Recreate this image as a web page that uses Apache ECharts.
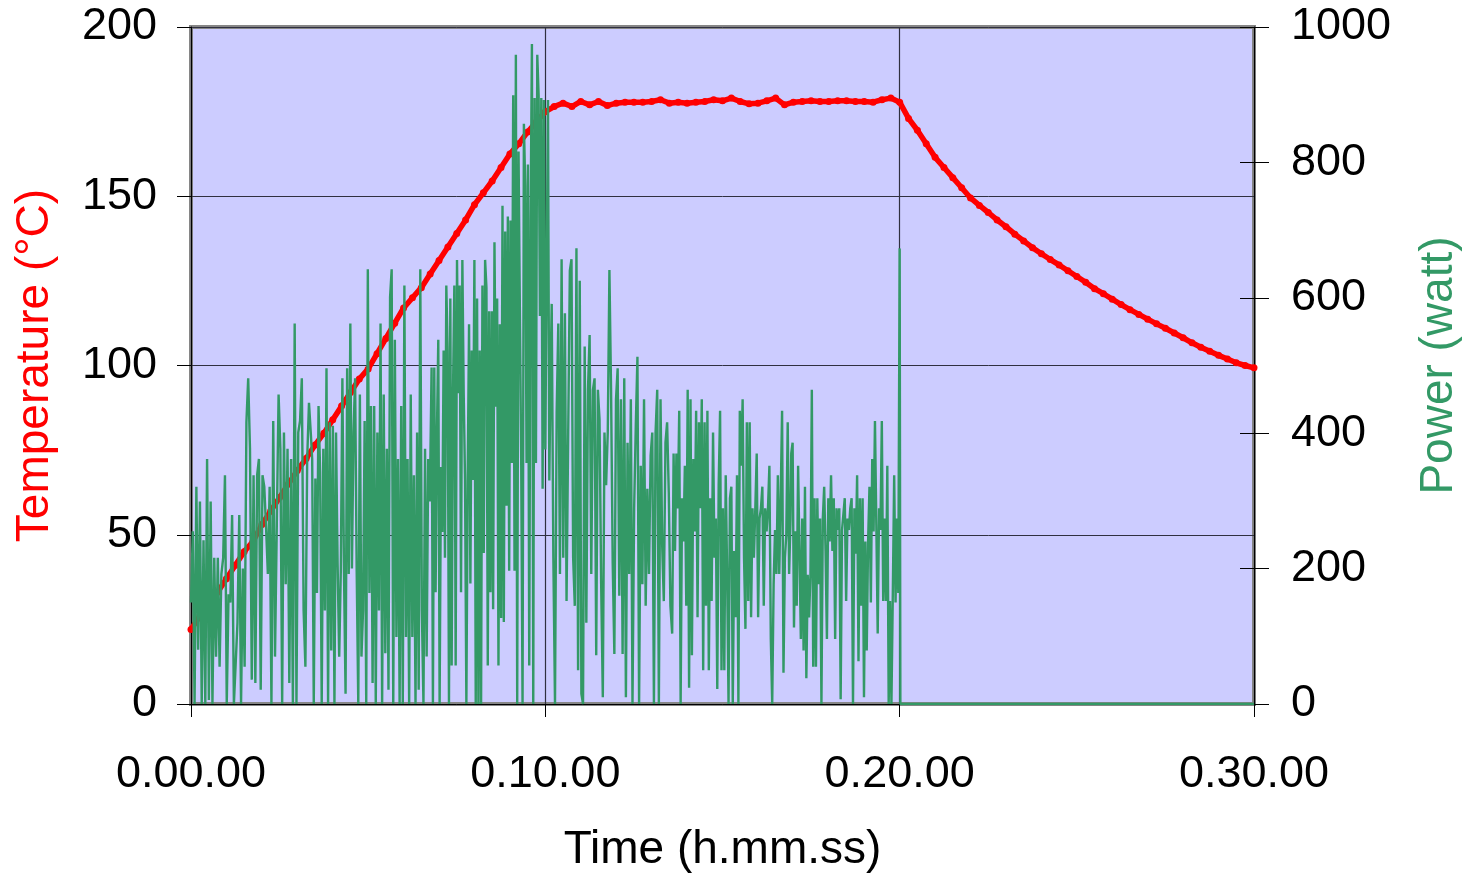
<!DOCTYPE html>
<html><head><meta charset="utf-8">
<script src="https://cdn.jsdelivr.net/npm/echarts@6/dist/echarts.min.js"></script>
<style>html,body{margin:0;padding:0;background:#fff}#c{width:1470px;height:878px}</style>
</head><body><div id="c"></div>
<script>
// ---- data ----
const xTickMinutes = [0, 10, 20, 30];
const tempStepMin = 0.25;
const temperatureC = [
  22,26,30,33,37,41,45,48,53,57,
  61,65,69,72.5,76.5,80,84,88,92,96,
  99,103.5,108,112.5,117,120,123,127,131,135,
  139,143,147.5,151,154.5,158.5,162.5,165.5,169,172,
  175,176.5,177.5,176.5,178,177,178,176.8,177.5,177.8,
  177.8,177.8,178,178.5,177.5,177.8,177.5,177.8,178,178.5,
  178.2,179,178,177.3,177.5,178.2,179,177,177.8,178,
  178.2,178,178,178.2,178.2,178,178,177.8,178.5,179,
  177.8,173,169.5,165.5,161.5,158.5,155.5,152.5,149.5,147.3,
  145.2,143,141,138.8,136.8,134.8,133,131.3,129.7,128,
  126.3,124.6,122.7,121.2,119.6,118,116.5,115.1,113.7,112.3,
  111,109.6,108.2,106.7,105.4,104.2,103,101.9,100.8,100,
  99.3
];
const powerA = [
  150,255,0,321,80,299,0,242,0,362,
  6,299,0,216,70,216,55,192,216,338,
  0,162,150,279,0,0,120,279,0,200,
  55,416,481,377,36,338,31,338,362,21,
  338,321,260,192,321,0,418,70,265,457,
  377,0,401,177,377,31,362,0,562,0,
  401,418,481,138,55,362,445,401
];
const powerB = [
  362,0,333,164,440,343,0,377,138,496,
  0,416,79,411,0,401,206,70,196,481,
  196,15,496,192,562,200,401,481,196,0,
  457,70,138,418,0,642,164,440,31,440,
  0,401,138,562,0,457,75,377,21,601,
  642,0,538,99,362,0,440,0,618,99,
  362,0,457,99,338,0,401,21,642,138,
  0,377,70,362,299
];
const powerC = [
  497,0,497,165,401,538,0,350,254,522,
  216,618,522,0,599,57,459,618,57,656,
  459,618,165,656,459,331,0,337,561,178,
  522,331,656,0,599,0,522,0,618,223,
  656,615,57,580,165,580,140,682,439,599,
  57,561,127,736,121,698,293,720,197,714,
  356,899,197,959,0,816,580,356,0,857,
  765,356,797,57,714,975,0,895,356,959,
  899,573,895,318,892,376,637,892,330,500
];
const powerD = [
  591,216,0,430,562,192,657,216,577,152,
  401,640,657,216,145,673,50,625,15,0,
  528,120,464,545,192,464,481,72,464,421,
  177,10,401,323,401,641,464,208,74,450,
  496,160,450,74,481,10,386,192,450,0,
  289,411,513,0,352,177,450,145,318,192,
  367,401,0,401,464,0,450,235,152,386,
  416,313,145
];
const powerE = [
  104,370,226,370,289,433,0,304,240,352,
  145,464,24,450,72,362,255,433,128,416,
  289,450,50,416,145,433,50,304,152,401,
  216,274,22,323,433,50,289,50,338,192,
  0,304,321,0,226,128,338,0,433,352,
  450,216,111,416,152,416,128,289,216,289,
  370,128,274,289,321,145,289,255,289,352,
  96,0,177,257,192,338,192,304,433,46,
  216,250,416,192,274
];
const powerF = [
  370,386,113,255,145,352,352,96,274,79,
  321,38,191,128,192,464,55,304,55,304,
  177,274,0,274,321,226,96,304,240,338,
  226,304,96,289,257,289,7,257,255,304,
  152,274,257,289,304,0,289,222,338,63,
  304,145,304,10,240,79,240,321,150,362,
  255,418,265,104,289,257,418,152,274,152,
  352,0,152,0,162,338,150,274,164,673
];
const powerSegStart = [0, 3.42, 6.79, 10.18, 13.58, 16.94];
const powerSegEnd   = [3.38, 6.74, 10.15, 13.53, 16.92, 20.0];
const powerOffTimes  = [20.02, 30];
const powerOffValues = [0, 0];
const tempTicks = [0, 50, 100, 150, 200];
const powerTicks = [0, 200, 400, 600, 800, 1000];

// ---- build ----
const FONT = "'Liberation Sans', Arial, Helvetica, sans-serif";
const tempData = temperatureC.map((v, i) => [i * tempStepMin, v]);
const powerData = [];
[powerA, powerB, powerC, powerD, powerE, powerF].forEach((arr, s) => {
  const a = powerSegStart[s], b = powerSegEnd[s], n = arr.length;
  arr.forEach((v, j) => powerData.push([a + (b - a) * j / (n - 1), v]));
});
powerOffTimes.forEach((t, i) => powerData.push([t, powerOffValues[i]]));

function fmtTime(v) {
  const m = Math.round(v);
  return '0.' + String(m).padStart(2, '0') + '.00';
}
const plain = v => String(v);

const chart = echarts.init(document.getElementById('c'), null, {renderer: 'canvas'});
chart.setOption({
  animation: false,
  backgroundColor: '#ffffff',
  grid: {left: 191, right: 215, top: 27, bottom: 167, show: true,
         backgroundColor: '#CCCCFF', borderColor: '#868686', borderWidth: 4},
  xAxis: {
    type: 'value', min: xTickMinutes[0], max: xTickMinutes[xTickMinutes.length - 1],
    interval: xTickMinutes[1] - xTickMinutes[0],
    name: 'Time (h.mm.ss)', nameLocation: 'middle', nameGap: 123,
    nameTextStyle: {fontSize: 46, color: '#000', fontFamily: FONT},
    axisLine: {show: true, onZero: false, lineStyle: {color: '#000', width: 1}},
    axisTick: {show: true, length: 13, lineStyle: {color: '#000', width: 1}},
    axisLabel: {margin: 48, fontSize: 45, color: '#000', fontFamily: FONT, formatter: fmtTime},
    splitLine: {show: true, lineStyle: {color: '#303040', width: 1.2}}
  },
  yAxis: [
    {
      type: 'value', position: 'left', min: tempTicks[0], max: tempTicks[tempTicks.length - 1],
      interval: tempTicks[1] - tempTicks[0],
      name: 'Temperature (°C)', nameLocation: 'middle', nameGap: 133, nameRotate: 90,
      nameTextStyle: {fontSize: 46, color: '#FF0000', fontFamily: FONT},
      axisLine: {show: true, lineStyle: {color: '#000', width: 1}},
      axisTick: {show: true, length: 14, lineStyle: {color: '#000', width: 1}},
      axisLabel: {margin: 34, fontSize: 45, color: '#000', fontFamily: FONT, formatter: plain},
      splitLine: {show: true, lineStyle: {color: '#303040', width: 1}}
    },
    {
      type: 'value', position: 'right', min: powerTicks[0], max: powerTicks[powerTicks.length - 1],
      interval: powerTicks[1] - powerTicks[0],
      name: 'Power (watt)', nameLocation: 'middle', nameGap: 162, nameRotate: 90,
      nameTextStyle: {fontSize: 46, color: '#339966', fontFamily: FONT},
      axisLine: {show: true, lineStyle: {color: '#000', width: 1}},
      axisTick: {show: true, length: 15, lineStyle: {color: '#000', width: 1}},
      axisLabel: {margin: 37, fontSize: 45, color: '#000', fontFamily: FONT, formatter: plain},
      splitLine: {show: false}
    },
    {
      type: 'value', position: 'right', min: powerTicks[0], max: powerTicks[powerTicks.length - 1],
      interval: powerTicks[1] - powerTicks[0],
      axisLine: {show: false},
      axisTick: {show: true, inside: true, length: 14, lineStyle: {color: '#000', width: 1}},
      axisLabel: {show: false},
      splitLine: {show: false}
    }
  ],
  series: [
    {
      name: 'Temperature', type: 'line', yAxisIndex: 0, data: tempData,
      symbol: 'circle', symbolSize: 7, showSymbol: true, showAllSymbol: true,
      itemStyle: {color: '#FF0000'},
      lineStyle: {color: '#FF0000', width: 5.5}, z: 2
    },
    {
      name: 'Power', type: 'line', yAxisIndex: 1, data: powerData,
      showSymbol: false, symbol: 'none',
      lineStyle: {color: '#339966', width: 2.4}, z: 3
    }
  ]
});
</script>
</body></html>
